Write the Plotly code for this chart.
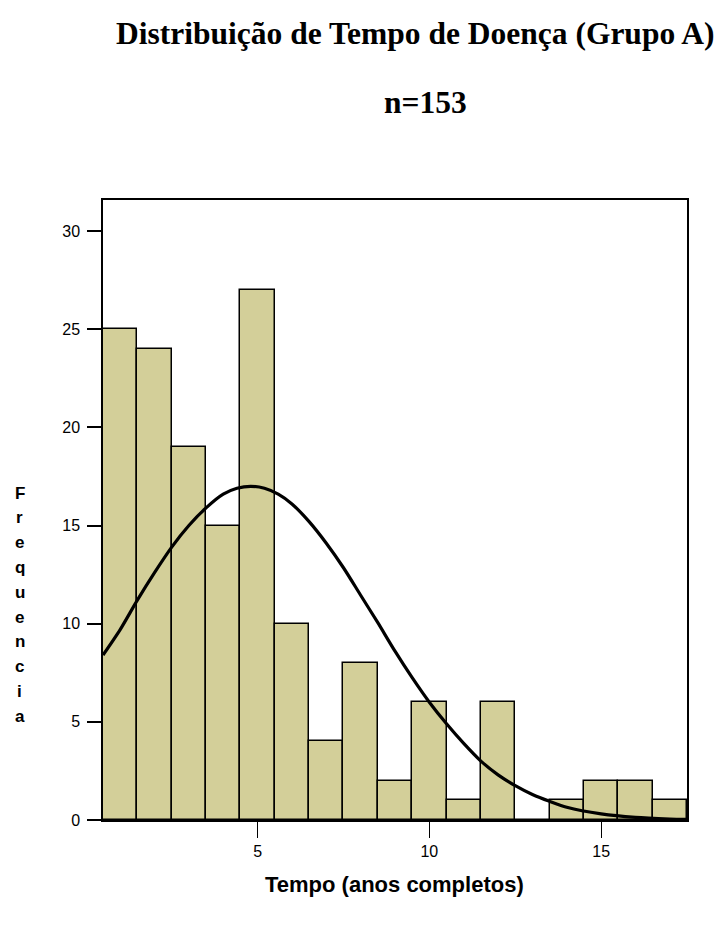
import plotly.graph_objects as go

# Histogram data (bin centers, counts)
bin_centers = [1, 2, 3, 4, 5, 6, 7, 8, 9, 10, 11, 12, 13, 14, 15, 16, 17]
counts = [25, 24, 19, 15, 27, 10, 4, 8, 2, 6, 1, 6, 0, 1, 2, 2, 1]

# Normal curve
curve_x = [0.5, 1, 1.5, 2, 2.5, 3, 3.5, 4, 4.4, 4.8, 5.2, 5.6, 6, 6.5, 7, 7.5, 8, 8.5, 9, 9.5,
           10, 10.5, 11, 11.5, 12, 12.5, 13, 13.5, 14, 15, 16, 17, 17.5]
curve_y = [8.4, 9.7, 11.2, 12.6, 13.9, 15.0, 15.9, 16.6, 16.9, 17.0, 16.9, 16.6, 16.1, 15.2, 14.1,
           12.85, 11.45, 10.05, 8.6, 7.25, 6.0, 4.9, 3.9, 3.0, 2.3, 1.75, 1.3, 0.95, 0.65, 0.31, 0.13, 0.05, 0.03]

y_ticks = [0, 5, 10, 15, 20, 25, 30]
x_ticks = [5, 10, 15]

title_text = "Distribuição de Tempo de Doença (Grupo A)"
subtitle_text = "n=153"
x_label = "Tempo (anos completos)"
y_label = "Frequencia"

O = 8  # page body margin offset
L, R, T, B = 103 - O, 40, 200 - O, 107
W, H = 727 - O, 927 - O
plot_h = H - T - B
plot_w = W - L - R

def py(pix):
    return (H - B - (pix - O)) / plot_h

def px(pix):
    return ((pix - O) - L) / plot_w

fig = go.Figure()
fig.add_trace(go.Bar(
    x=bin_centers, y=counts, width=1,
    marker=dict(color="#D3CF99", line=dict(color="black", width=1.5)),
    showlegend=False, hoverinfo="skip"))
fig.add_trace(go.Scatter(
    x=curve_x, y=curve_y, mode="lines",
    line=dict(color="black", width=3.2, shape="spline", smoothing=0.7),
    showlegend=False, hoverinfo="skip"))

annotations = [
    dict(text="<b>%s</b>" % title_text, x=px(415), y=py(33), xref="paper", yref="paper",
         showarrow=False, xanchor="center", yanchor="middle",
         font=dict(family="Liberation Serif", size=31.5, color="black")),
    dict(text="<b>%s</b>" % subtitle_text, x=px(425), y=py(102), xref="paper", yref="paper",
         showarrow=False, xanchor="center", yanchor="middle",
         font=dict(family="Liberation Serif", size=31.5, color="black")),
    dict(text="<b>%s</b>" % x_label, x=px(394), y=py(885), xref="paper", yref="paper",
         showarrow=False, xanchor="center", yanchor="middle",
         font=dict(family="Liberation Sans", size=22, color="black")),
]
for i, ch in enumerate(y_label):
    annotations.append(dict(text="<b>%s</b>" % ch, x=px(20), y=py(493 + i * 24.8),
                            xref="paper", yref="paper", showarrow=False,
                            xanchor="center", yanchor="middle",
                            font=dict(family="Liberation Sans", size=17, color="black")))

fig.update_layout(
    width=W, height=H,
    margin=dict(l=L, r=R, t=T, b=B),
    paper_bgcolor="white", plot_bgcolor="white",
    bargap=0,
    annotations=annotations,
    xaxis=dict(range=[0.5, 17.5], tickvals=x_ticks, ticks="outside", ticklen=16,
               tickwidth=1.2, tickcolor="black", showgrid=False, zeroline=False,
               showline=True, linecolor="black", linewidth=1.5, mirror=True,
               tickfont=dict(family="Liberation Sans", size=16, color="black")),
    yaxis=dict(range=[0, plot_h / 19.63], tickvals=y_ticks, ticks="outside", ticklen=14,
               tickwidth=1.5, tickcolor="black", showgrid=False, zeroline=False,
               showline=True, linecolor="black", linewidth=1.5, mirror=True,
               ticklabelstandoff=4,
               tickfont=dict(family="Liberation Sans", size=16, color="black")),
)

fig.write_html("out.html")
